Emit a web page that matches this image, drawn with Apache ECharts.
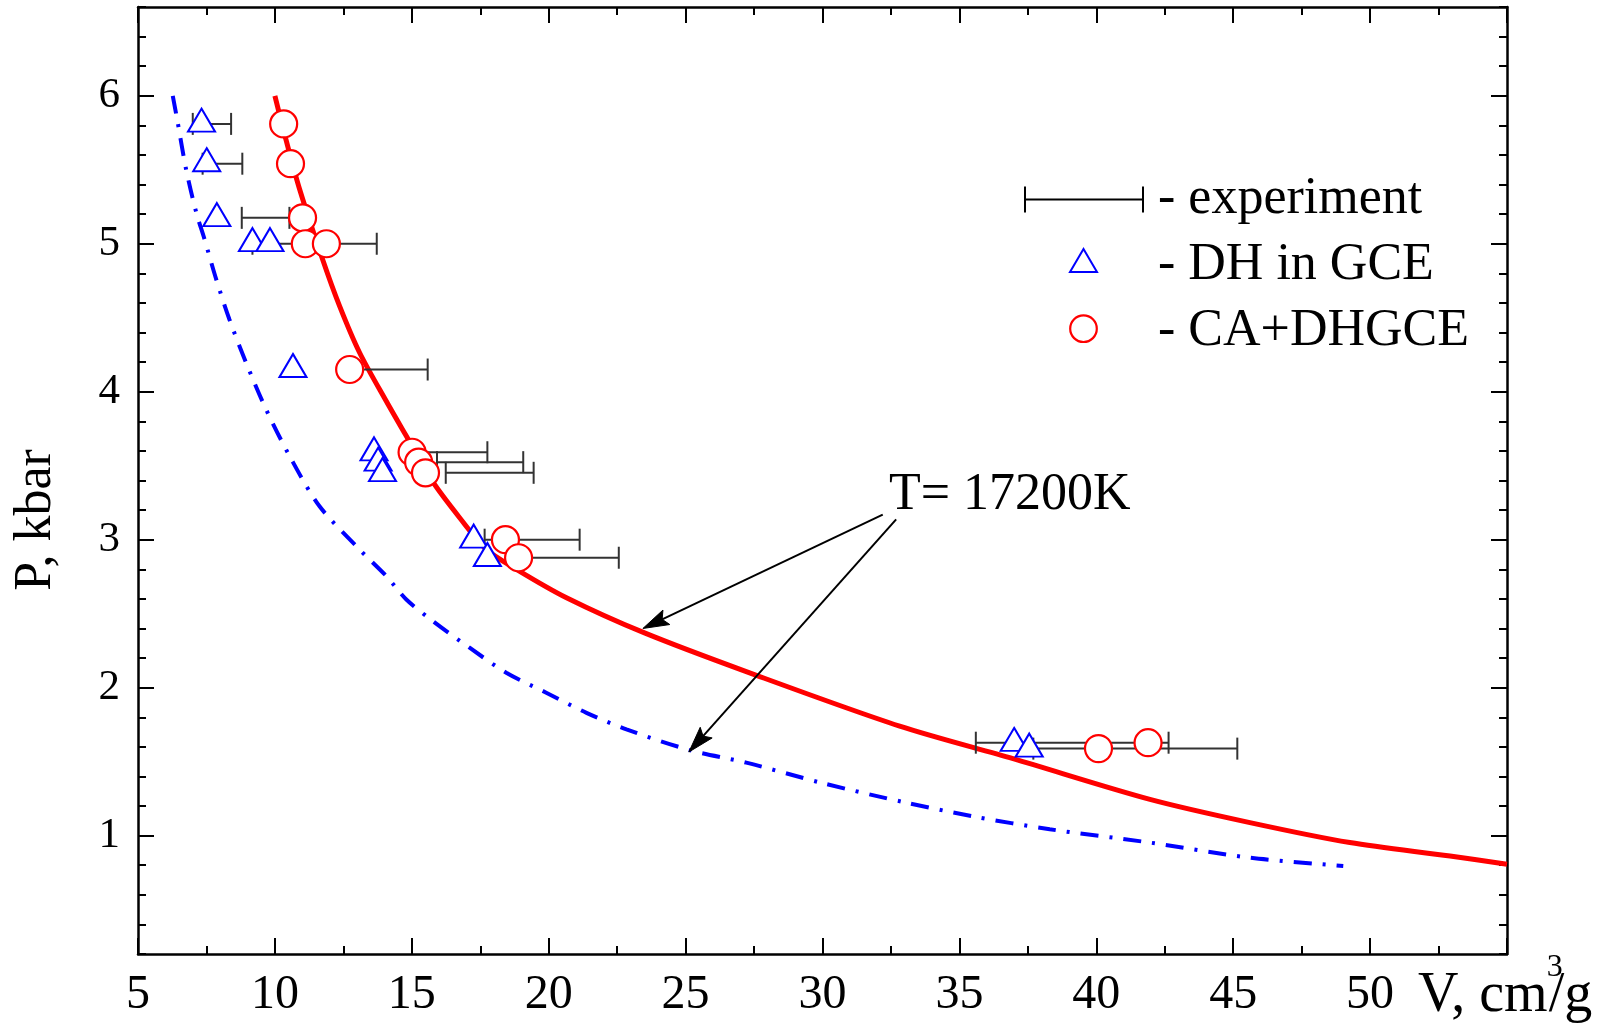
<!DOCTYPE html>
<html>
<head>
<meta charset="utf-8">
<script src="https://cdn.jsdelivr.net/npm/echarts@6/dist/echarts.min.js"></script>
<style>
  html, body { margin: 0; padding: 0; background: #fff; }
  #chart { width: 1621px; height: 1025px; }
</style>
</head>
<body>
<div id="chart"></div>
<script>
// ---- axis ticks ----
const xTickLabels = [5, 10, 15, 20, 25, 30, 35, 40, 45, 50];
const yTickLabels = [1, 2, 3, 4, 5, 6];

// ---- DH in GCE (triangles) ----
const dhV = [7.32, 7.51, 7.88, 9.18, 9.82, 10.66, 13.62, 13.77, 13.93, 17.26, 17.76, 37.0, 37.55];
const dhP = [5.835, 5.568, 5.197, 5.028, 5.028, 4.177, 3.614, 3.544, 3.474, 3.024, 2.90, 1.65, 1.612];

// ---- CA+DHGCE (circles) ----
const caV = [10.32, 10.57, 11.01, 11.11, 11.88, 12.73, 15.01, 15.25, 15.50, 18.42, 18.90, 40.08, 41.89];
const caP = [5.81, 5.541, 5.175, 5.0, 5.0, 4.15, 3.591, 3.524, 3.452, 3.0, 2.878, 1.588, 1.628];

// ---- experiment: volume ranges at each pressure ----
const expVmin = [7.0, 7.36, 8.79, 9.18, 12.6, 15.3, 15.92, 16.24, 17.66, 18.7, 35.6, 37.7];
const expVmax = [8.4, 8.81, 10.53, 13.72, 15.58, 17.76, 19.07, 19.45, 21.13, 22.56, 42.64, 45.15];
const expP    = [5.81, 5.541, 5.175, 5.0, 4.15, 3.591, 3.524, 3.452, 3.0, 2.878, 1.628, 1.588];

// ---- isotherm T = 17200 K, CA+DHGCE (solid red) ----
const caCurveV = [10.0, 10.41, 10.9, 11.75, 12.36, 13.09, 14.07, 14.8, 15.77, 16.74, 17.72, 18.82, 20.65, 23.5, 27.34, 32.82, 36.96, 41.96, 45.61, 49.26, 52.92, 55.0];
const caCurveP = [6.0, 5.70, 5.37, 4.89, 4.58, 4.265, 3.935, 3.70, 3.39, 3.15, 2.934, 2.80, 2.608, 2.37, 2.10, 1.74, 1.52, 1.245, 1.088, 0.953, 0.862, 0.806];

// ---- isotherm T = 17200 K, DH in GCE (blue dash-dot) ----
const dhCurveV = [6.27, 6.45, 6.76, 7.13, 7.43, 7.86, 8.34, 8.95, 9.68, 10.54, 11.63, 13.09, 14.07, 14.8, 15.77, 17.11, 18.45, 19.91, 21.38, 22.84, 25.15, 27.22, 30.0, 33.0, 35.5, 38.3, 41.96, 45.61, 49.02];
const dhCurveP = [6.0, 5.82, 5.50, 5.21, 5.03, 4.758, 4.488, 4.195, 3.88, 3.564, 3.226, 2.934, 2.754, 2.596, 2.45, 2.27, 2.101, 1.966, 1.83, 1.718, 1.578, 1.493, 1.355, 1.225, 1.13, 1.043, 0.953, 0.851, 0.795];

// ---- annotation arrows "T= 17200K": [fromV, fromP] -> [toV, toP] ----
const arrowFrom = [[32.2, 3.17], [32.69, 3.137]];
const arrowTo   = [[23.44, 2.40], [25.12, 1.565]];

const FONT = 'Liberation Serif, Times New Roman, serif';
const zip = (a, b) => a.map((v, i) => [v, b[i]]);

const chart = echarts.init(document.getElementById('chart'), null, { renderer: 'canvas' });

function xAxis(position, labels) {
  return {
    type: 'value', position: position, min: 5, max: 55, interval: 5,
    axisLine: { show: true, onZero: false, lineStyle: { color: '#000', width: 2.5 } },
    axisTick: { show: true, inside: true, length: 16, lineStyle: { color: '#000', width: 2 } },
    minorTick: { show: true, splitNumber: 2, length: 8, lineStyle: { color: '#000', width: 2 } },
    splitLine: { show: false }, minorSplitLine: { show: false },
    axisLabel: labels ? {
      show: true, color: '#000', fontFamily: FONT, fontSize: 48, margin: 17,
      formatter: v => (xTickLabels.indexOf(v) >= 0 ? String(v) : '')
    } : { show: false }
  };
}
function yMajor(position, labels) {
  return {
    type: 'value', position: position, min: 0.2, max: 6.6,
    axisLine: { show: true, onZero: false, lineStyle: { color: '#000', width: 2.5 } },
    axisTick: { show: true, inside: true, length: 16, customValues: yTickLabels, lineStyle: { color: '#000', width: 2 } },
    splitLine: { show: false },
    axisLabel: labels ? {
      show: true, color: '#000', fontFamily: FONT, fontSize: 43, margin: 18, customValues: yTickLabels
    } : { show: false }
  };
}
function yMinor(position) {
  return {
    type: 'value', position: position, min: 0.2, max: 6.6, interval: 0.2,
    axisLine: { show: false },
    axisTick: { show: true, inside: true, length: 8, lineStyle: { color: '#000', width: 2 } },
    splitLine: { show: false },
    axisLabel: { show: false }
  };
}

// horizontal range bar with end caps
function renderRange(params, api) {
  const p = api.value(2);
  const a = api.coord([api.value(0), p]);
  const b = api.coord([api.value(1), p]);
  const h = 11;
  const st = { stroke: '#333', lineWidth: 2 };
  return {
    type: 'group',
    children: [
      { type: 'line', shape: { x1: a[0], y1: a[1], x2: b[0], y2: b[1] }, style: st },
      { type: 'line', shape: { x1: a[0], y1: a[1] - h, x2: a[0], y2: a[1] + h }, style: st },
      { type: 'line', shape: { x1: b[0], y1: b[1] - h, x2: b[0], y2: b[1] + h }, style: st }
    ]
  };
}

// annotation arrow with a filled, slightly notched head
function renderArrow(params, api) {
  const s = api.coord([api.value(0), api.value(1)]);
  const t = api.coord([api.value(2), api.value(3)]);
  const dx = t[0] - s[0], dy = t[1] - s[1];
  const len = Math.sqrt(dx * dx + dy * dy);
  const ux = dx / len, uy = dy / len, nx = -uy, ny = ux;
  const L = 26, W = 8;
  const bx = t[0] - ux * L, by = t[1] - uy * L;
  const mx = t[0] - ux * L * 0.82, my = t[1] - uy * L * 0.82;
  return {
    type: 'group',
    children: [
      { type: 'line', shape: { x1: s[0], y1: s[1], x2: mx, y2: my }, style: { stroke: '#000', lineWidth: 2 } },
      { type: 'polygon', shape: { points: [[t[0], t[1]], [bx + nx * W, by + ny * W], [mx, my], [bx - nx * W, by - ny * W]] },
        style: { fill: '#000', stroke: '#000', lineWidth: 1 } }
    ]
  };
}

const textStyle = (txt, size) => ({ text: txt, font: size + 'px ' + FONT, fill: '#000' });

// width of the "V, cm" part of the axis title, to place the superscript
const VFS = 56;
const mctx = document.createElement('canvas').getContext('2d');
mctx.font = VFS + 'px ' + FONT;
const vcmW = mctx.measureText('V, cm').width;
const vX = 1418;

const option = {
  animation: false,
  backgroundColor: '#fff',
  grid: { left: 138, right: 114, top: 7, bottom: 71, containLabel: false },
  xAxis: [xAxis('bottom', true), xAxis('top', false)],
  yAxis: [yMajor('left', true), yMinor('left'), yMajor('right', false), yMinor('right')],
  series: [
    {
      name: 'CA+DHGCE fit', type: 'line', data: zip(caCurveV, caCurveP),
      smooth: 0.3, showSymbol: false, z: 2,
      lineStyle: { color: '#ff0000', width: 5 }
    },
    {
      name: 'DH in GCE fit', type: 'line', data: zip(dhCurveV, dhCurveP),
      smooth: 0.3, showSymbol: false, z: 2,
      lineStyle: { color: '#0000ff', width: 4, type: [18, 11, 3, 11], cap: 'butt' }
    },
    {
      name: 'experiment', type: 'custom', renderItem: renderRange, z: 3,
      data: expP.map((p, i) => [expVmin[i], expVmax[i], p])
    },
    {
      name: 'DH in GCE', type: 'scatter', data: zip(dhV, dhP), z: 4,
      symbol: 'triangle', symbolSize: [27, 23],
      itemStyle: { color: '#fff', borderColor: '#0000ff', borderWidth: 2, opacity: 1 }
    },
    {
      name: 'CA+DHGCE', type: 'scatter', data: zip(caV, caP), z: 5,
      symbol: 'circle', symbolSize: 27,
      itemStyle: { color: '#fff', borderColor: '#ff0000', borderWidth: 2.2, opacity: 1 }
    },
    {
      name: 'arrows', type: 'custom', renderItem: renderArrow, z: 6,
      data: arrowFrom.map((f, i) => [f[0], f[1], arrowTo[i][0], arrowTo[i][1]])
    }
  ],
  graphic: [
    // legend
    { type: 'line', shape: { x1: 1025, y1: 199.5, x2: 1143, y2: 199.5 }, style: { stroke: '#000', lineWidth: 2 } },
    { type: 'line', shape: { x1: 1025, y1: 186.5, x2: 1025, y2: 212.5 }, style: { stroke: '#000', lineWidth: 2 } },
    { type: 'line', shape: { x1: 1143, y1: 186.5, x2: 1143, y2: 212.5 }, style: { stroke: '#000', lineWidth: 2 } },
    { type: 'text', x: 1158, y: 199, style: Object.assign(textStyle('- experiment', 52), { verticalAlign: 'middle' }) },
    { type: 'polygon', shape: { points: [[1070, 272], [1097, 272], [1083.5, 249]] }, style: { fill: '#fff', stroke: '#0000ff', lineWidth: 2 } },
    { type: 'text', x: 1158, y: 265, style: Object.assign(textStyle('- DH in GCE', 52), { verticalAlign: 'middle' }) },
    { type: 'circle', shape: { cx: 1083.5, cy: 328.7, r: 13.3 }, style: { fill: '#fff', stroke: '#ff0000', lineWidth: 2.2 } },
    { type: 'text', x: 1158, y: 331, style: Object.assign(textStyle('- CA+DHGCE', 52), { verticalAlign: 'middle' }) },
    // annotation
    { type: 'text', x: 889, y: 495, style: Object.assign(textStyle('T= 17200K', 52), { verticalAlign: 'middle' }) },
    // axis titles
    { type: 'text', x: 36, y: 520, rotation: Math.PI / 2,
      style: Object.assign(textStyle('P, kbar', 52), { align: 'center', verticalAlign: 'middle' }) },
    { type: 'text', x: vX, y: 996, style: Object.assign(textStyle('V, cm', VFS), { verticalAlign: 'middle' }) },
    { type: 'text', x: vX + vcmW - 1, y: 968, style: Object.assign(textStyle('3', 32), { verticalAlign: 'middle' }) },
    { type: 'text', x: vX + vcmW + 1, y: 996, style: Object.assign(textStyle('/g', VFS), { verticalAlign: 'middle' }) }
  ]
};

chart.setOption(option);
</script>
</body>
</html>
